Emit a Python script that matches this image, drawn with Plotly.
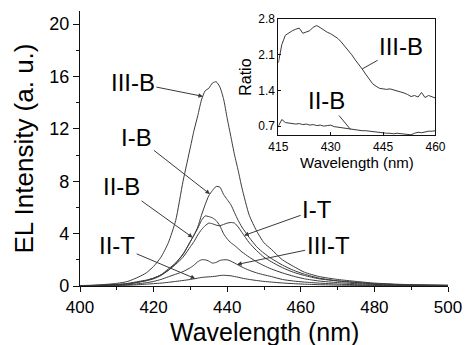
import numpy as np
import plotly.graph_objects as go

# ---------------- data ----------------
wl = [400, 405, 410, 413, 416, 418, 420, 422, 424, 426, 428, 430, 431, 432, 433, 434, 435, 436,
      437, 438, 439, 440, 441, 442, 443, 444, 446, 448, 450, 452, 455, 458, 461, 465, 470, 475,
      480, 485, 490, 495, 500]

iii_b = [0.03, 0.08, 0.2, 0.35, 0.7, 1.0, 1.5, 2.2, 3.3, 5.0, 8.0, 10.6, 11.9, 13.0, 14.2, 14.9, 15.1, 15.5,
         15.6, 15.2, 14.3, 12.8, 11.4, 10.0, 8.8, 7.5, 5.4, 4.2, 3.3, 2.8, 2.0, 1.5, 1.05, 0.72, 0.5, 0.35,
         0.22, 0.15, 0.1, 0.07, 0.05]
i_b = [0.02, 0.05, 0.12, 0.2, 0.35, 0.45, 0.6, 0.85, 1.3, 1.75, 2.4, 3.4, 3.9, 4.5, 5.4, 6.2, 6.9, 7.3,
       7.6, 7.55, 7.0, 6.6, 6.2, 5.6, 5.0, 4.5, 3.7, 3.0, 2.5, 2.1, 1.6, 1.2, 0.9, 0.6, 0.4, 0.28,
       0.18, 0.12, 0.08, 0.06, 0.05]
ii_b = [0.02, 0.05, 0.1, 0.15, 0.3, 0.4, 0.55, 0.8, 1.2, 1.75, 2.45, 3.4, 3.9, 4.4, 5.0, 5.35, 5.3, 5.2,
        5.0, 4.6, 4.0, 3.6, 3.3, 3.1, 2.85, 2.6, 2.2, 1.85, 1.55, 1.3, 1.0, 0.75, 0.55, 0.38, 0.26, 0.18,
        0.12, 0.08, 0.06, 0.05, 0.04]
i_t = [0.02, 0.05, 0.1, 0.17, 0.3, 0.42, 0.6, 0.85, 1.2, 1.65, 2.2, 3.0, 3.4, 3.9, 4.3, 4.6, 4.8, 4.75,
       4.65, 4.6, 4.7, 4.8, 4.85, 4.8, 4.5, 4.1, 3.3, 2.7, 2.2, 1.85, 1.4, 1.05, 0.8, 0.55, 0.38, 0.26,
       0.17, 0.12, 0.08, 0.06, 0.05]
iii_t = [0.01, 0.03, 0.06, 0.1, 0.18, 0.25, 0.35, 0.5, 0.7, 0.9, 1.1, 1.4, 1.6, 1.85, 2.0, 2.0, 1.9, 1.75,
         1.8, 1.95, 2.0, 2.0, 1.9, 1.75, 1.6, 1.45, 1.2, 1.0, 0.85, 0.72, 0.5, 0.38, 0.3, 0.22, 0.15, 0.1,
         0.07, 0.05, 0.04, 0.03, 0.03]
ii_t = [0.01, 0.02, 0.04, 0.06, 0.1, 0.14, 0.18, 0.22, 0.28, 0.35, 0.42, 0.5, 0.55, 0.6, 0.65, 0.68, 0.7, 0.72,
        0.75, 0.8, 0.82, 0.8, 0.78, 0.72, 0.67, 0.6, 0.5, 0.42, 0.35, 0.3, 0.23, 0.18, 0.14, 0.1, 0.07, 0.05,
        0.04, 0.03, 0.03, 0.02, 0.02]

# inset: ratio
wl_in = list(range(415, 461))
ratio_iii_b = [1.94, 2.3, 2.48, 2.53, 2.57, 2.6, 2.62, 2.52, 2.55, 2.57, 2.64, 2.67, 2.63, 2.58, 2.54, 2.51,
               2.46, 2.42, 2.35, 2.27, 2.18, 2.1, 2.0, 1.92, 1.82, 1.72, 1.62, 1.53, 1.48, 1.44, 1.43, 1.42,
               1.43, 1.41, 1.39, 1.38, 1.35, 1.32, 1.28, 1.3, 1.27, 1.36, 1.26, 1.3, 1.27, 1.25]
ratio_ii_b = [0.7, 0.83, 0.77, 0.76, 0.75, 0.74, 0.75, 0.73, 0.74, 0.72, 0.73, 0.71, 0.72, 0.7, 0.71, 0.72,
              0.69, 0.68, 0.66, 0.65, 0.64, 0.63, 0.62, 0.62, 0.61, 0.61, 0.6, 0.59, 0.58, 0.57, 0.57, 0.56,
              0.56, 0.55, 0.56, 0.55, 0.54, 0.54, 0.53, 0.56, 0.58, 0.57, 0.59, 0.6, 0.6, 0.61]

main_series = {"III-B": iii_b, "I-B": i_b, "II-B": ii_b, "I-T": i_t, "III-T": iii_t, "II-T": ii_t}
# label -> (arrow tip wavelength, text offset px)
main_labels = {"III-B": (433.4, -70, -14), "I-B": (435.3, -73, -57), "II-B": (430.6, -71, -51),
               "II-T": (431.3, -78, -33), "I-T": (444.6, 73, -26), "III-T": (442.7, 91, -19)}
inset_series = {"III-B": ratio_iii_b, "II-B": ratio_ii_b}
inset_labels = {"III-B": (439.0, 39, -22), "II-B": (435.7, -24, -29)}
x_title = "Wavelength (nm)"
y_title = "EL Intensity (a. u.)"

FONT = "Liberation Sans, Arial, sans-serif"
LINE = "#3a3a3a"
AX = "#111111"

fig = go.Figure()
for name, vals in main_series.items():
    fig.add_trace(go.Scatter(x=wl, y=vals, mode="lines", line=dict(color=LINE, width=1, shape="spline", smoothing=0.6),
                             name=name, showlegend=False, hoverinfo="skip"))
for name, vals in inset_series.items():
    fig.add_trace(go.Scatter(x=wl_in, y=vals, mode="lines", line=dict(color=LINE, width=1),
                             xaxis="x2", yaxis="y2", name=name, showlegend=False, hoverinfo="skip"))

for name, (tx, ax, ay) in main_labels.items():
    ty = float(np.interp(tx, wl, main_series[name]))
    fig.add_annotation(x=tx, y=ty, xref="x", yref="y", text=name, showarrow=True, ax=ax, ay=ay,
                       arrowhead=2, arrowsize=0.9, arrowwidth=1, arrowcolor=LINE,
                       font=dict(family=FONT, size=24, color="#000"))
for name, (tx, ax, ay) in inset_labels.items():
    ty = float(np.interp(tx, wl_in, inset_series[name]))
    fig.add_annotation(x=tx, y=ty, xref="x2", yref="y2", text=name, showarrow=True, ax=ax, ay=ay,
                       arrowhead=0, arrowwidth=1, arrowcolor=LINE,
                       font=dict(family=FONT, size=24, color="#000"))

# main x-axis title (placed as a paper annotation for exact vertical position)
fig.add_annotation(x=0.5, y=0, xref="paper", yref="paper", yanchor="middle", yshift=-46,
                   text=x_title, showarrow=False, font=dict(family=FONT, size=25, color="#000"))

fig.update_layout(
    width=468, height=345,
    margin=dict(l=80, r=20, t=11, b=59, autoexpand=False),
    paper_bgcolor="white", plot_bgcolor="white",
    font=dict(family=FONT, color="#000"),
    xaxis=dict(range=[400, 500], dtick=20, ticks="outside", ticklen=5, tickwidth=1, tickcolor=AX,
               minor=dict(dtick=10, ticks="outside", ticklen=3, tickcolor=AX),
               showline=True, linecolor=AX, linewidth=1.2, showgrid=False, zeroline=False,
               tickfont=dict(size=17), automargin=False),
    yaxis=dict(range=[0, 21], dtick=4, ticks="outside", ticklen=6, tickwidth=1, tickcolor=AX,
               minor=dict(dtick=2, ticks="outside", ticklen=3, tickcolor=AX),
               showline=True, linecolor=AX, linewidth=1.2, showgrid=False, zeroline=False,
               tickfont=dict(size=18), automargin=False,
               title=dict(text=y_title, font=dict(size=26), standoff=8)),
    xaxis3=dict(overlaying="x", side="top", anchor="y", range=[400, 500], dtick=10, ticks="inside",
                ticklen=4, tickcolor=AX, showticklabels=False, showline=True, linecolor=AX,
                linewidth=1.2, showgrid=False, zeroline=False, automargin=False),
    yaxis3=dict(overlaying="y", side="right", anchor="x", range=[0, 21], dtick=4, ticks="inside",
                ticklen=5, tickcolor=AX, minor=dict(dtick=2, ticks="inside", ticklen=3, tickcolor=AX),
                showticklabels=False, showline=True, linecolor=AX, linewidth=1.2,
                showgrid=False, zeroline=False, automargin=False),
    xaxis2=dict(domain=[0.539, 0.966], anchor="y2", range=[415, 460], tick0=415, dtick=15, ticks="inside",
                ticklen=3, tickcolor=AX, showline=True, mirror=True, linecolor=AX, linewidth=1,
                showgrid=False, zeroline=False, tickfont=dict(size=12), automargin=False,
                title=dict(text=x_title, font=dict(size=15), standoff=0)),
    yaxis2=dict(domain=[0.548, 0.971], anchor="x2", range=[0.52, 2.8], tickvals=[0.7, 1.4, 2.1, 2.8],
                ticktext=["0.7", "1.4", "2.1", "2.8"], ticks="inside", ticklen=3, tickcolor=AX,
                showline=True, mirror=True, linecolor=AX, linewidth=1, showgrid=False,
                zeroline=False, tickfont=dict(size=12), automargin=False,
                title=dict(text="Ratio", font=dict(size=16), standoff=2)),
)

fig.write_html("out.html", config={"displayModeBar": False},
               post_script="document.body.style.margin='0';document.body.style.overflow='hidden';")
